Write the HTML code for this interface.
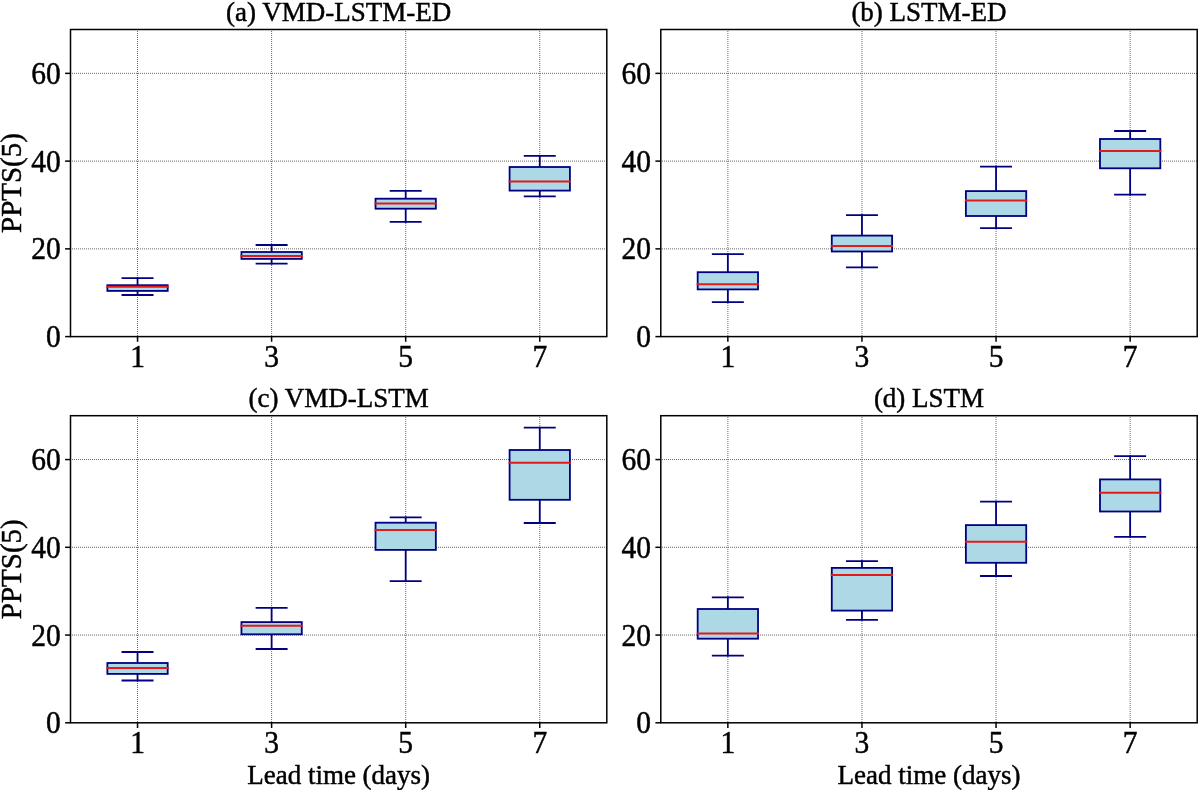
<!DOCTYPE html><html><head><meta charset="utf-8"><style>html,body{margin:0;padding:0;background:#fff;}svg{display:block;will-change:transform;}text{font-family:"Liberation Serif",serif;fill:#000;stroke:#000;stroke-width:0.45px;}</style></head><body>
<svg width="1200" height="790" viewBox="0 0 1200 790">
<rect x="0" y="0" width="1200" height="790" fill="#fff"/>
<line x1="137.54" y1="29" x2="137.54" y2="336.60" stroke="#666666" stroke-width="1.0" stroke-dasharray="1,1"/>
<line x1="271.61" y1="29" x2="271.61" y2="336.60" stroke="#666666" stroke-width="1.0" stroke-dasharray="1,1"/>
<line x1="405.69" y1="29" x2="405.69" y2="336.60" stroke="#666666" stroke-width="1.0" stroke-dasharray="1,1"/>
<line x1="539.76" y1="29" x2="539.76" y2="336.60" stroke="#666666" stroke-width="1.0" stroke-dasharray="1,1"/>
<line x1="70" y1="248.86" x2="606.80" y2="248.86" stroke="#666666" stroke-width="1.0" stroke-dasharray="1,1"/>
<line x1="70" y1="161.11" x2="606.80" y2="161.11" stroke="#666666" stroke-width="1.0" stroke-dasharray="1,1"/>
<line x1="70" y1="73.37" x2="606.80" y2="73.37" stroke="#666666" stroke-width="1.0" stroke-dasharray="1,1"/>
<line x1="137.54" y1="290.90" x2="137.54" y2="295.00" stroke="#000080" stroke-width="1.8" stroke-linecap="square"/>
<line x1="137.54" y1="285.20" x2="137.54" y2="278.10" stroke="#000080" stroke-width="1.8" stroke-linecap="square"/>
<line x1="122.45" y1="278.10" x2="152.62" y2="278.10" stroke="#000080" stroke-width="1.8" stroke-linecap="square"/>
<line x1="122.45" y1="295.00" x2="152.62" y2="295.00" stroke="#000080" stroke-width="1.8" stroke-linecap="square"/>
<rect x="107.37" y="285.20" width="60.33" height="5.70" fill="#add8e6" stroke="#000080" stroke-width="1.8"/>
<line x1="107.37" y1="286.70" x2="167.70" y2="286.70" stroke="#e41a1a" stroke-width="2.0" stroke-linecap="square"/>
<line x1="271.61" y1="258.90" x2="271.61" y2="263.70" stroke="#000080" stroke-width="1.8" stroke-linecap="square"/>
<line x1="271.61" y1="252.00" x2="271.61" y2="245.00" stroke="#000080" stroke-width="1.8" stroke-linecap="square"/>
<line x1="256.53" y1="245.00" x2="286.70" y2="245.00" stroke="#000080" stroke-width="1.8" stroke-linecap="square"/>
<line x1="256.53" y1="263.70" x2="286.70" y2="263.70" stroke="#000080" stroke-width="1.8" stroke-linecap="square"/>
<rect x="241.45" y="252.00" width="60.33" height="6.90" fill="#add8e6" stroke="#000080" stroke-width="1.8"/>
<line x1="241.45" y1="256.00" x2="301.78" y2="256.00" stroke="#e41a1a" stroke-width="2.0" stroke-linecap="square"/>
<line x1="405.69" y1="208.70" x2="405.69" y2="221.90" stroke="#000080" stroke-width="1.8" stroke-linecap="square"/>
<line x1="405.69" y1="198.70" x2="405.69" y2="190.90" stroke="#000080" stroke-width="1.8" stroke-linecap="square"/>
<line x1="390.60" y1="190.90" x2="420.77" y2="190.90" stroke="#000080" stroke-width="1.8" stroke-linecap="square"/>
<line x1="390.60" y1="221.90" x2="420.77" y2="221.90" stroke="#000080" stroke-width="1.8" stroke-linecap="square"/>
<rect x="375.52" y="198.70" width="60.33" height="10.00" fill="#add8e6" stroke="#000080" stroke-width="1.8"/>
<line x1="375.52" y1="203.50" x2="435.85" y2="203.50" stroke="#e41a1a" stroke-width="2.0" stroke-linecap="square"/>
<line x1="539.76" y1="190.60" x2="539.76" y2="196.40" stroke="#000080" stroke-width="1.8" stroke-linecap="square"/>
<line x1="539.76" y1="167.00" x2="539.76" y2="155.80" stroke="#000080" stroke-width="1.8" stroke-linecap="square"/>
<line x1="524.68" y1="155.80" x2="554.85" y2="155.80" stroke="#000080" stroke-width="1.8" stroke-linecap="square"/>
<line x1="524.68" y1="196.40" x2="554.85" y2="196.40" stroke="#000080" stroke-width="1.8" stroke-linecap="square"/>
<rect x="509.60" y="167.00" width="60.33" height="23.60" fill="#add8e6" stroke="#000080" stroke-width="1.8"/>
<line x1="509.60" y1="181.50" x2="569.93" y2="181.50" stroke="#e41a1a" stroke-width="2.0" stroke-linecap="square"/>
<rect x="70.50" y="29.50" width="536.30" height="307.10" fill="none" stroke="#000" stroke-width="1.5"/>
<line x1="137.54" y1="336.60" x2="137.54" y2="341.80" stroke="#000" stroke-width="1.5"/>
<text transform="translate(137.54,366.90) scale(1,1.05)" font-size="29.5" text-anchor="middle">1</text>
<line x1="271.61" y1="336.60" x2="271.61" y2="341.80" stroke="#000" stroke-width="1.5"/>
<text transform="translate(271.61,366.90) scale(1,1.05)" font-size="29.5" text-anchor="middle">3</text>
<line x1="405.69" y1="336.60" x2="405.69" y2="341.80" stroke="#000" stroke-width="1.5"/>
<text transform="translate(405.69,366.90) scale(1,1.05)" font-size="29.5" text-anchor="middle">5</text>
<line x1="539.76" y1="336.60" x2="539.76" y2="341.80" stroke="#000" stroke-width="1.5"/>
<text transform="translate(539.76,366.90) scale(1,1.05)" font-size="29.5" text-anchor="middle">7</text>
<line x1="65.10" y1="336.60" x2="70.50" y2="336.60" stroke="#000" stroke-width="1.5"/>
<text transform="translate(60.70,347.10) scale(1,1.05)" font-size="29.5" text-anchor="end">0</text>
<line x1="65.10" y1="248.86" x2="70.50" y2="248.86" stroke="#000" stroke-width="1.5"/>
<text transform="translate(60.70,259.36) scale(1,1.05)" font-size="29.5" text-anchor="end">20</text>
<line x1="65.10" y1="161.11" x2="70.50" y2="161.11" stroke="#000" stroke-width="1.5"/>
<text transform="translate(60.70,171.61) scale(1,1.05)" font-size="29.5" text-anchor="end">40</text>
<line x1="65.10" y1="73.37" x2="70.50" y2="73.37" stroke="#000" stroke-width="1.5"/>
<text transform="translate(60.70,83.87) scale(1,1.05)" font-size="29.5" text-anchor="end">60</text>
<text x="338.65" y="20.75" font-size="27" text-anchor="middle">(a) VMD-LSTM-ED</text>
<text transform="translate(20.5,183.05) rotate(-90)" x="0" y="0" font-size="29" text-anchor="middle">PPTS(5)</text>
<line x1="727.85" y1="29" x2="727.85" y2="336.60" stroke="#666666" stroke-width="1.0" stroke-dasharray="1,1"/>
<line x1="861.95" y1="29" x2="861.95" y2="336.60" stroke="#666666" stroke-width="1.0" stroke-dasharray="1,1"/>
<line x1="996.05" y1="29" x2="996.05" y2="336.60" stroke="#666666" stroke-width="1.0" stroke-dasharray="1,1"/>
<line x1="1130.15" y1="29" x2="1130.15" y2="336.60" stroke="#666666" stroke-width="1.0" stroke-dasharray="1,1"/>
<line x1="660" y1="248.86" x2="1197.20" y2="248.86" stroke="#666666" stroke-width="1.0" stroke-dasharray="1,1"/>
<line x1="660" y1="161.11" x2="1197.20" y2="161.11" stroke="#666666" stroke-width="1.0" stroke-dasharray="1,1"/>
<line x1="660" y1="73.37" x2="1197.20" y2="73.37" stroke="#666666" stroke-width="1.0" stroke-dasharray="1,1"/>
<line x1="727.85" y1="289.40" x2="727.85" y2="302.20" stroke="#000080" stroke-width="1.8" stroke-linecap="square"/>
<line x1="727.85" y1="272.20" x2="727.85" y2="254.05" stroke="#000080" stroke-width="1.8" stroke-linecap="square"/>
<line x1="712.76" y1="254.05" x2="742.94" y2="254.05" stroke="#000080" stroke-width="1.8" stroke-linecap="square"/>
<line x1="712.76" y1="302.20" x2="742.94" y2="302.20" stroke="#000080" stroke-width="1.8" stroke-linecap="square"/>
<rect x="697.68" y="272.20" width="60.35" height="17.20" fill="#add8e6" stroke="#000080" stroke-width="1.8"/>
<line x1="697.68" y1="284.30" x2="758.02" y2="284.30" stroke="#e41a1a" stroke-width="2.0" stroke-linecap="square"/>
<line x1="861.95" y1="251.50" x2="861.95" y2="267.30" stroke="#000080" stroke-width="1.8" stroke-linecap="square"/>
<line x1="861.95" y1="235.60" x2="861.95" y2="215.20" stroke="#000080" stroke-width="1.8" stroke-linecap="square"/>
<line x1="846.86" y1="215.20" x2="877.04" y2="215.20" stroke="#000080" stroke-width="1.8" stroke-linecap="square"/>
<line x1="846.86" y1="267.30" x2="877.04" y2="267.30" stroke="#000080" stroke-width="1.8" stroke-linecap="square"/>
<rect x="831.78" y="235.60" width="60.35" height="15.90" fill="#add8e6" stroke="#000080" stroke-width="1.8"/>
<line x1="831.78" y1="245.90" x2="892.12" y2="245.90" stroke="#e41a1a" stroke-width="2.0" stroke-linecap="square"/>
<line x1="996.05" y1="216.00" x2="996.05" y2="228.10" stroke="#000080" stroke-width="1.8" stroke-linecap="square"/>
<line x1="996.05" y1="191.10" x2="996.05" y2="166.60" stroke="#000080" stroke-width="1.8" stroke-linecap="square"/>
<line x1="980.96" y1="166.60" x2="1011.14" y2="166.60" stroke="#000080" stroke-width="1.8" stroke-linecap="square"/>
<line x1="980.96" y1="228.10" x2="1011.14" y2="228.10" stroke="#000080" stroke-width="1.8" stroke-linecap="square"/>
<rect x="965.88" y="191.10" width="60.35" height="24.90" fill="#add8e6" stroke="#000080" stroke-width="1.8"/>
<line x1="965.88" y1="200.60" x2="1026.22" y2="200.60" stroke="#e41a1a" stroke-width="2.0" stroke-linecap="square"/>
<line x1="1130.15" y1="168.30" x2="1130.15" y2="194.70" stroke="#000080" stroke-width="1.8" stroke-linecap="square"/>
<line x1="1130.15" y1="139.00" x2="1130.15" y2="131.00" stroke="#000080" stroke-width="1.8" stroke-linecap="square"/>
<line x1="1115.06" y1="131.00" x2="1145.24" y2="131.00" stroke="#000080" stroke-width="1.8" stroke-linecap="square"/>
<line x1="1115.06" y1="194.70" x2="1145.24" y2="194.70" stroke="#000080" stroke-width="1.8" stroke-linecap="square"/>
<rect x="1099.98" y="139.00" width="60.35" height="29.30" fill="#add8e6" stroke="#000080" stroke-width="1.8"/>
<line x1="1099.98" y1="151.00" x2="1160.32" y2="151.00" stroke="#e41a1a" stroke-width="2.0" stroke-linecap="square"/>
<rect x="660.80" y="29.50" width="536.40" height="307.10" fill="none" stroke="#000" stroke-width="1.5"/>
<line x1="727.85" y1="336.60" x2="727.85" y2="341.80" stroke="#000" stroke-width="1.5"/>
<text transform="translate(727.85,366.90) scale(1,1.05)" font-size="29.5" text-anchor="middle">1</text>
<line x1="861.95" y1="336.60" x2="861.95" y2="341.80" stroke="#000" stroke-width="1.5"/>
<text transform="translate(861.95,366.90) scale(1,1.05)" font-size="29.5" text-anchor="middle">3</text>
<line x1="996.05" y1="336.60" x2="996.05" y2="341.80" stroke="#000" stroke-width="1.5"/>
<text transform="translate(996.05,366.90) scale(1,1.05)" font-size="29.5" text-anchor="middle">5</text>
<line x1="1130.15" y1="336.60" x2="1130.15" y2="341.80" stroke="#000" stroke-width="1.5"/>
<text transform="translate(1130.15,366.90) scale(1,1.05)" font-size="29.5" text-anchor="middle">7</text>
<line x1="655.40" y1="336.60" x2="660.80" y2="336.60" stroke="#000" stroke-width="1.5"/>
<text transform="translate(651.00,347.10) scale(1,1.05)" font-size="29.5" text-anchor="end">0</text>
<line x1="655.40" y1="248.86" x2="660.80" y2="248.86" stroke="#000" stroke-width="1.5"/>
<text transform="translate(651.00,259.36) scale(1,1.05)" font-size="29.5" text-anchor="end">20</text>
<line x1="655.40" y1="161.11" x2="660.80" y2="161.11" stroke="#000" stroke-width="1.5"/>
<text transform="translate(651.00,171.61) scale(1,1.05)" font-size="29.5" text-anchor="end">40</text>
<line x1="655.40" y1="73.37" x2="660.80" y2="73.37" stroke="#000" stroke-width="1.5"/>
<text transform="translate(651.00,83.87) scale(1,1.05)" font-size="29.5" text-anchor="end">60</text>
<text x="929.00" y="20.75" font-size="27" text-anchor="middle">(b) LSTM-ED</text>
<line x1="137.54" y1="415" x2="137.54" y2="722.80" stroke="#666666" stroke-width="1.0" stroke-dasharray="1,1"/>
<line x1="271.61" y1="415" x2="271.61" y2="722.80" stroke="#666666" stroke-width="1.0" stroke-dasharray="1,1"/>
<line x1="405.69" y1="415" x2="405.69" y2="722.80" stroke="#666666" stroke-width="1.0" stroke-dasharray="1,1"/>
<line x1="539.76" y1="415" x2="539.76" y2="722.80" stroke="#666666" stroke-width="1.0" stroke-dasharray="1,1"/>
<line x1="70" y1="635.06" x2="606.80" y2="635.06" stroke="#666666" stroke-width="1.0" stroke-dasharray="1,1"/>
<line x1="70" y1="547.31" x2="606.80" y2="547.31" stroke="#666666" stroke-width="1.0" stroke-dasharray="1,1"/>
<line x1="70" y1="459.57" x2="606.80" y2="459.57" stroke="#666666" stroke-width="1.0" stroke-dasharray="1,1"/>
<line x1="137.54" y1="673.90" x2="137.54" y2="680.50" stroke="#000080" stroke-width="1.8" stroke-linecap="square"/>
<line x1="137.54" y1="663.00" x2="137.54" y2="652.00" stroke="#000080" stroke-width="1.8" stroke-linecap="square"/>
<line x1="122.45" y1="652.00" x2="152.62" y2="652.00" stroke="#000080" stroke-width="1.8" stroke-linecap="square"/>
<line x1="122.45" y1="680.50" x2="152.62" y2="680.50" stroke="#000080" stroke-width="1.8" stroke-linecap="square"/>
<rect x="107.37" y="663.00" width="60.33" height="10.90" fill="#add8e6" stroke="#000080" stroke-width="1.8"/>
<line x1="107.37" y1="668.00" x2="167.70" y2="668.00" stroke="#e41a1a" stroke-width="2.0" stroke-linecap="square"/>
<line x1="271.61" y1="634.30" x2="271.61" y2="649.00" stroke="#000080" stroke-width="1.8" stroke-linecap="square"/>
<line x1="271.61" y1="622.10" x2="271.61" y2="607.80" stroke="#000080" stroke-width="1.8" stroke-linecap="square"/>
<line x1="256.53" y1="607.80" x2="286.70" y2="607.80" stroke="#000080" stroke-width="1.8" stroke-linecap="square"/>
<line x1="256.53" y1="649.00" x2="286.70" y2="649.00" stroke="#000080" stroke-width="1.8" stroke-linecap="square"/>
<rect x="241.45" y="622.10" width="60.33" height="12.20" fill="#add8e6" stroke="#000080" stroke-width="1.8"/>
<line x1="241.45" y1="625.80" x2="301.78" y2="625.80" stroke="#e41a1a" stroke-width="2.0" stroke-linecap="square"/>
<line x1="405.69" y1="549.90" x2="405.69" y2="581.10" stroke="#000080" stroke-width="1.8" stroke-linecap="square"/>
<line x1="405.69" y1="522.70" x2="405.69" y2="517.40" stroke="#000080" stroke-width="1.8" stroke-linecap="square"/>
<line x1="390.60" y1="517.40" x2="420.77" y2="517.40" stroke="#000080" stroke-width="1.8" stroke-linecap="square"/>
<line x1="390.60" y1="581.10" x2="420.77" y2="581.10" stroke="#000080" stroke-width="1.8" stroke-linecap="square"/>
<rect x="375.52" y="522.70" width="60.33" height="27.20" fill="#add8e6" stroke="#000080" stroke-width="1.8"/>
<line x1="375.52" y1="530.10" x2="435.85" y2="530.10" stroke="#e41a1a" stroke-width="2.0" stroke-linecap="square"/>
<line x1="539.76" y1="499.80" x2="539.76" y2="523.00" stroke="#000080" stroke-width="1.8" stroke-linecap="square"/>
<line x1="539.76" y1="450.00" x2="539.76" y2="427.70" stroke="#000080" stroke-width="1.8" stroke-linecap="square"/>
<line x1="524.68" y1="427.70" x2="554.85" y2="427.70" stroke="#000080" stroke-width="1.8" stroke-linecap="square"/>
<line x1="524.68" y1="523.00" x2="554.85" y2="523.00" stroke="#000080" stroke-width="1.8" stroke-linecap="square"/>
<rect x="509.60" y="450.00" width="60.33" height="49.80" fill="#add8e6" stroke="#000080" stroke-width="1.8"/>
<line x1="509.60" y1="462.70" x2="569.93" y2="462.70" stroke="#e41a1a" stroke-width="2.0" stroke-linecap="square"/>
<rect x="70.50" y="415.70" width="536.30" height="307.10" fill="none" stroke="#000" stroke-width="1.5"/>
<line x1="137.54" y1="722.80" x2="137.54" y2="728.00" stroke="#000" stroke-width="1.5"/>
<text transform="translate(137.54,753.10) scale(1,1.05)" font-size="29.5" text-anchor="middle">1</text>
<line x1="271.61" y1="722.80" x2="271.61" y2="728.00" stroke="#000" stroke-width="1.5"/>
<text transform="translate(271.61,753.10) scale(1,1.05)" font-size="29.5" text-anchor="middle">3</text>
<line x1="405.69" y1="722.80" x2="405.69" y2="728.00" stroke="#000" stroke-width="1.5"/>
<text transform="translate(405.69,753.10) scale(1,1.05)" font-size="29.5" text-anchor="middle">5</text>
<line x1="539.76" y1="722.80" x2="539.76" y2="728.00" stroke="#000" stroke-width="1.5"/>
<text transform="translate(539.76,753.10) scale(1,1.05)" font-size="29.5" text-anchor="middle">7</text>
<line x1="65.10" y1="722.80" x2="70.50" y2="722.80" stroke="#000" stroke-width="1.5"/>
<text transform="translate(60.70,733.30) scale(1,1.05)" font-size="29.5" text-anchor="end">0</text>
<line x1="65.10" y1="635.06" x2="70.50" y2="635.06" stroke="#000" stroke-width="1.5"/>
<text transform="translate(60.70,645.56) scale(1,1.05)" font-size="29.5" text-anchor="end">20</text>
<line x1="65.10" y1="547.31" x2="70.50" y2="547.31" stroke="#000" stroke-width="1.5"/>
<text transform="translate(60.70,557.81) scale(1,1.05)" font-size="29.5" text-anchor="end">40</text>
<line x1="65.10" y1="459.57" x2="70.50" y2="459.57" stroke="#000" stroke-width="1.5"/>
<text transform="translate(60.70,470.07) scale(1,1.05)" font-size="29.5" text-anchor="end">60</text>
<text x="338.65" y="406.95" font-size="27" text-anchor="middle">(c) VMD-LSTM</text>
<text transform="translate(20.5,569.25) rotate(-90)" x="0" y="0" font-size="29" text-anchor="middle">PPTS(5)</text>
<text x="338.65" y="783.80" font-size="27" text-anchor="middle">Lead time (days)</text>
<line x1="727.85" y1="415" x2="727.85" y2="722.80" stroke="#666666" stroke-width="1.0" stroke-dasharray="1,1"/>
<line x1="861.95" y1="415" x2="861.95" y2="722.80" stroke="#666666" stroke-width="1.0" stroke-dasharray="1,1"/>
<line x1="996.05" y1="415" x2="996.05" y2="722.80" stroke="#666666" stroke-width="1.0" stroke-dasharray="1,1"/>
<line x1="1130.15" y1="415" x2="1130.15" y2="722.80" stroke="#666666" stroke-width="1.0" stroke-dasharray="1,1"/>
<line x1="660" y1="635.06" x2="1197.20" y2="635.06" stroke="#666666" stroke-width="1.0" stroke-dasharray="1,1"/>
<line x1="660" y1="547.31" x2="1197.20" y2="547.31" stroke="#666666" stroke-width="1.0" stroke-dasharray="1,1"/>
<line x1="660" y1="459.57" x2="1197.20" y2="459.57" stroke="#666666" stroke-width="1.0" stroke-dasharray="1,1"/>
<line x1="727.85" y1="638.70" x2="727.85" y2="655.70" stroke="#000080" stroke-width="1.8" stroke-linecap="square"/>
<line x1="727.85" y1="609.00" x2="727.85" y2="597.30" stroke="#000080" stroke-width="1.8" stroke-linecap="square"/>
<line x1="712.76" y1="597.30" x2="742.94" y2="597.30" stroke="#000080" stroke-width="1.8" stroke-linecap="square"/>
<line x1="712.76" y1="655.70" x2="742.94" y2="655.70" stroke="#000080" stroke-width="1.8" stroke-linecap="square"/>
<rect x="697.68" y="609.00" width="60.35" height="29.70" fill="#add8e6" stroke="#000080" stroke-width="1.8"/>
<line x1="697.68" y1="633.60" x2="758.02" y2="633.60" stroke="#e41a1a" stroke-width="2.0" stroke-linecap="square"/>
<line x1="861.95" y1="610.60" x2="861.95" y2="619.90" stroke="#000080" stroke-width="1.8" stroke-linecap="square"/>
<line x1="861.95" y1="567.90" x2="861.95" y2="561.10" stroke="#000080" stroke-width="1.8" stroke-linecap="square"/>
<line x1="846.86" y1="561.10" x2="877.04" y2="561.10" stroke="#000080" stroke-width="1.8" stroke-linecap="square"/>
<line x1="846.86" y1="619.90" x2="877.04" y2="619.90" stroke="#000080" stroke-width="1.8" stroke-linecap="square"/>
<rect x="831.78" y="567.90" width="60.35" height="42.70" fill="#add8e6" stroke="#000080" stroke-width="1.8"/>
<line x1="831.78" y1="575.00" x2="892.12" y2="575.00" stroke="#e41a1a" stroke-width="2.0" stroke-linecap="square"/>
<line x1="996.05" y1="562.80" x2="996.05" y2="576.00" stroke="#000080" stroke-width="1.8" stroke-linecap="square"/>
<line x1="996.05" y1="525.10" x2="996.05" y2="501.70" stroke="#000080" stroke-width="1.8" stroke-linecap="square"/>
<line x1="980.96" y1="501.70" x2="1011.14" y2="501.70" stroke="#000080" stroke-width="1.8" stroke-linecap="square"/>
<line x1="980.96" y1="576.00" x2="1011.14" y2="576.00" stroke="#000080" stroke-width="1.8" stroke-linecap="square"/>
<rect x="965.88" y="525.10" width="60.35" height="37.70" fill="#add8e6" stroke="#000080" stroke-width="1.8"/>
<line x1="965.88" y1="541.70" x2="1026.22" y2="541.70" stroke="#e41a1a" stroke-width="2.0" stroke-linecap="square"/>
<line x1="1130.15" y1="511.50" x2="1130.15" y2="536.80" stroke="#000080" stroke-width="1.8" stroke-linecap="square"/>
<line x1="1130.15" y1="479.40" x2="1130.15" y2="456.10" stroke="#000080" stroke-width="1.8" stroke-linecap="square"/>
<line x1="1115.06" y1="456.10" x2="1145.24" y2="456.10" stroke="#000080" stroke-width="1.8" stroke-linecap="square"/>
<line x1="1115.06" y1="536.80" x2="1145.24" y2="536.80" stroke="#000080" stroke-width="1.8" stroke-linecap="square"/>
<rect x="1099.98" y="479.40" width="60.35" height="32.10" fill="#add8e6" stroke="#000080" stroke-width="1.8"/>
<line x1="1099.98" y1="492.70" x2="1160.32" y2="492.70" stroke="#e41a1a" stroke-width="2.0" stroke-linecap="square"/>
<rect x="660.80" y="415.70" width="536.40" height="307.10" fill="none" stroke="#000" stroke-width="1.5"/>
<line x1="727.85" y1="722.80" x2="727.85" y2="728.00" stroke="#000" stroke-width="1.5"/>
<text transform="translate(727.85,753.10) scale(1,1.05)" font-size="29.5" text-anchor="middle">1</text>
<line x1="861.95" y1="722.80" x2="861.95" y2="728.00" stroke="#000" stroke-width="1.5"/>
<text transform="translate(861.95,753.10) scale(1,1.05)" font-size="29.5" text-anchor="middle">3</text>
<line x1="996.05" y1="722.80" x2="996.05" y2="728.00" stroke="#000" stroke-width="1.5"/>
<text transform="translate(996.05,753.10) scale(1,1.05)" font-size="29.5" text-anchor="middle">5</text>
<line x1="1130.15" y1="722.80" x2="1130.15" y2="728.00" stroke="#000" stroke-width="1.5"/>
<text transform="translate(1130.15,753.10) scale(1,1.05)" font-size="29.5" text-anchor="middle">7</text>
<line x1="655.40" y1="722.80" x2="660.80" y2="722.80" stroke="#000" stroke-width="1.5"/>
<text transform="translate(651.00,733.30) scale(1,1.05)" font-size="29.5" text-anchor="end">0</text>
<line x1="655.40" y1="635.06" x2="660.80" y2="635.06" stroke="#000" stroke-width="1.5"/>
<text transform="translate(651.00,645.56) scale(1,1.05)" font-size="29.5" text-anchor="end">20</text>
<line x1="655.40" y1="547.31" x2="660.80" y2="547.31" stroke="#000" stroke-width="1.5"/>
<text transform="translate(651.00,557.81) scale(1,1.05)" font-size="29.5" text-anchor="end">40</text>
<line x1="655.40" y1="459.57" x2="660.80" y2="459.57" stroke="#000" stroke-width="1.5"/>
<text transform="translate(651.00,470.07) scale(1,1.05)" font-size="29.5" text-anchor="end">60</text>
<text x="929.00" y="406.95" font-size="27" text-anchor="middle">(d) LSTM</text>
<text x="929.00" y="783.80" font-size="27" text-anchor="middle">Lead time (days)</text>
</svg></body></html>
